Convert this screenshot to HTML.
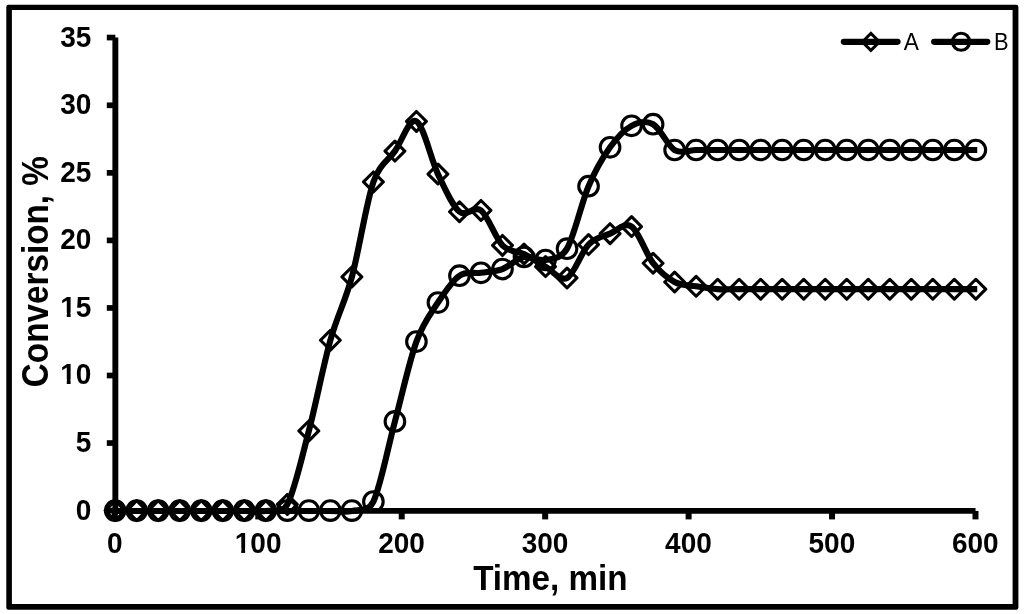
<!DOCTYPE html>
<html><head><meta charset="utf-8"><title>Conversion vs Time</title>
<style>
html,body{margin:0;padding:0;background:#fff;}
body{width:1024px;height:614px;overflow:hidden;}
svg{display:block;}
text{font-family:"Liberation Sans",Arial,Helvetica,sans-serif;fill:#000;}
.b{font-weight:bold;}
</style></head><body>
<svg width="1024" height="614" viewBox="0 0 1024 614">
<rect x="0" y="0" width="1024" height="614" fill="#fff"/>
<path fill="#000" fill-rule="evenodd" d="M8.5,4.7H1016.1999999999999Q1018.4,4.7 1018.4,6.9V607.5Q1018.4,609.7 1016.1999999999999,609.7H8.5Q6.3,609.7 6.3,607.5V6.9Q6.3,4.7 8.5,4.7ZM11.9,9.9V603.9H1012.6V9.9Z"/>
<g stroke="#000" stroke-width="5.9" fill="none">
<path d="M115.35,37.45V513.8"/>
<path d="M112.4,510.9H975.54"/>
</g>
<g stroke="#000" stroke-width="5.7" fill="none">
<path d="M106.8,510.60H115.35"/><path d="M106.8,443.05H115.35"/><path d="M106.8,375.50H115.35"/><path d="M106.8,307.95H115.35"/><path d="M106.8,240.40H115.35"/><path d="M106.8,172.85H115.35"/><path d="M106.8,105.30H115.35"/><path d="M106.8,37.55H115.35"/>
<path stroke-width="6" d="M114.85,510.9V519.4"/><path stroke-width="6" d="M258.29,510.9V519.4"/><path stroke-width="6" d="M401.73,510.9V519.4"/><path stroke-width="6" d="M545.17,510.9V519.4"/><path stroke-width="6" d="M688.61,510.9V519.4"/><path stroke-width="6" d="M832.05,510.9V519.4"/><path stroke-width="6" d="M975.49,510.9V519.4"/>
</g>
<g class="b" font-size="28"><text transform="translate(91.4,519.50) scale(1,1.06)" text-anchor="end">0</text><text transform="translate(91.4,451.95) scale(1,1.06)" text-anchor="end">5</text><text transform="translate(91.4,384.40) scale(1,1.06)" text-anchor="end">10</text><text transform="translate(91.4,316.85) scale(1,1.06)" text-anchor="end">15</text><text transform="translate(91.4,249.30) scale(1,1.06)" text-anchor="end">20</text><text transform="translate(91.4,181.75) scale(1,1.06)" text-anchor="end">25</text><text transform="translate(91.4,114.20) scale(1,1.06)" text-anchor="end">30</text><text transform="translate(91.4,46.65) scale(1,1.06)" text-anchor="end">35</text><text transform="translate(114.70,552.8) scale(1,1.075)" text-anchor="middle">0</text><text transform="translate(258.14,552.8) scale(1,1.075)" text-anchor="middle">100</text><text transform="translate(401.58,552.8) scale(1,1.075)" text-anchor="middle">200</text><text transform="translate(545.02,552.8) scale(1,1.075)" text-anchor="middle">300</text><text transform="translate(688.46,552.8) scale(1,1.075)" text-anchor="middle">400</text><text transform="translate(831.90,552.8) scale(1,1.075)" text-anchor="middle">500</text><text transform="translate(975.34,552.8) scale(1,1.075)" text-anchor="middle">600</text></g>
<g fill="#fff"><path d="M61.3,379.5H66.78V385.2H61.3ZM70.6,379.5H75.6V385.2H70.6ZM61.3,312.5H66.78V318.2H61.3ZM70.6,312.5H75.6V318.2H70.6ZM235.8,548.5H241.29V554.2H235.8ZM245.11,548.5H250.2V554.2H245.11Z"/></g>
<text class="b" font-size="33.2" transform="translate(550.3,590) scale(1,1.03)" text-anchor="middle">Time, min</text>
<text class="b" font-size="33.27" transform="translate(48.0,271.65) rotate(-90) scale(1,1.115)" text-anchor="middle">Conversion, %</text>
<g fill="none" stroke="#000" stroke-width="6.15" stroke-linejoin="round">
<path d="M115.20,510.95C118.79,510.95 129.54,510.95 136.72,510.95C143.89,510.95 151.06,510.95 158.23,510.95C165.40,510.95 172.58,510.95 179.75,510.95C186.92,510.95 194.09,510.95 201.26,510.95C208.44,510.95 215.61,510.95 222.78,510.95C229.95,510.95 237.12,510.95 244.30,510.95C251.47,510.95 258.64,512.04 265.81,510.95C272.98,509.86 282.00,514.29 287.33,504.39C294.50,491.04 301.67,458.25 308.84,430.89C316.02,403.53 323.19,365.91 330.36,340.24C337.53,314.57 344.70,303.27 351.88,276.88C359.05,250.49 366.22,202.86 373.39,181.90C379.47,164.13 387.74,161.19 394.91,151.10C402.08,141.01 409.25,117.55 416.42,121.38C423.60,125.20 430.77,159.00 437.94,174.07C445.11,189.13 452.28,205.70 459.46,211.76C466.63,217.82 473.80,204.80 480.97,210.41C488.14,216.01 495.32,238.13 502.49,245.40C509.66,252.67 516.83,250.51 524.00,254.05C531.18,257.58 538.35,262.62 545.52,266.61C552.69,270.59 559.86,281.63 567.04,277.96C574.21,274.29 581.38,251.97 588.55,244.59C595.72,237.20 602.90,236.64 610.07,233.65C617.24,230.65 624.41,221.69 631.58,226.62C638.76,231.55 645.93,254.00 653.10,263.23C660.27,272.46 667.44,278.16 674.62,282.01C681.79,285.86 688.96,285.14 696.13,286.33C703.30,287.53 710.48,288.70 717.65,289.17C724.82,289.64 731.99,289.17 739.16,289.17C746.34,289.17 753.51,289.17 760.68,289.17C767.85,289.17 775.02,289.17 782.20,289.17C789.37,289.17 796.54,289.17 803.71,289.17C810.88,289.17 818.06,289.17 825.23,289.17C832.40,289.17 839.57,289.17 846.74,289.17C853.92,289.17 861.09,289.17 868.26,289.17C875.43,289.17 882.60,289.17 889.78,289.17C896.95,289.17 904.12,289.17 911.29,289.17C918.46,289.17 925.64,289.17 932.81,289.17C939.98,289.17 947.15,289.17 954.32,289.17C961.50,289.17 972.25,289.17 975.84,289.17L977.24,289.17"/>
<path d="M115.20,510.95C118.79,510.95 129.54,510.95 136.72,510.95C143.89,510.95 151.06,510.95 158.23,510.95C165.40,510.95 172.58,510.95 179.75,510.95C186.92,510.95 194.09,510.95 201.26,510.95C208.44,510.95 215.61,510.95 222.78,510.95C229.95,510.95 237.12,510.95 244.30,510.95C251.47,510.95 258.64,510.95 265.81,510.95C272.98,510.95 280.16,510.95 287.33,510.95C294.50,510.95 301.67,510.95 308.84,510.95C316.02,510.95 323.19,510.95 330.36,510.95C337.53,510.95 344.70,512.52 351.88,510.95C359.05,509.38 368.31,512.13 373.39,501.55C380.56,486.63 387.74,448.09 394.91,421.43C402.08,394.77 409.25,361.40 416.42,341.59C423.60,321.78 430.77,313.53 437.94,302.55C445.11,291.56 452.28,280.61 459.46,275.66C466.63,270.71 473.80,273.93 480.97,272.82C488.14,271.72 495.32,271.68 502.49,269.04C509.66,266.41 516.83,258.53 524.00,257.02C531.18,255.51 538.35,261.39 545.52,259.99C552.69,258.59 560.91,259.15 567.04,248.64C574.21,236.35 581.38,203.11 588.55,186.22C595.72,169.34 602.90,157.38 610.07,147.32C617.24,137.25 624.41,129.69 631.58,125.84C638.76,121.98 645.93,120.18 653.10,124.21C660.27,128.24 667.44,145.72 674.62,150.02C681.79,154.32 688.96,150.02 696.13,150.02C703.30,150.02 710.48,150.02 717.65,150.02C724.82,150.02 731.99,150.02 739.16,150.02C746.34,150.02 753.51,150.02 760.68,150.02C767.85,150.02 775.02,150.02 782.20,150.02C789.37,150.02 796.54,150.02 803.71,150.02C810.88,150.02 818.06,150.02 825.23,150.02C832.40,150.02 839.57,150.02 846.74,150.02C853.92,150.02 861.09,150.02 868.26,150.02C875.43,150.02 882.60,150.02 889.78,150.02C896.95,150.02 904.12,150.02 911.29,150.02C918.46,150.02 925.64,150.02 932.81,150.02C939.98,150.02 947.15,150.02 954.32,150.02C961.50,150.02 972.25,150.02 975.84,150.02L977.24,150.02"/>
</g>
<path d="M115.20,500.70L125.10,510.60L115.20,520.50L105.30,510.60ZM136.72,500.70L146.62,510.60L136.72,520.50L126.82,510.60ZM158.23,500.70L168.13,510.60L158.23,520.50L148.33,510.60ZM179.75,500.70L189.65,510.60L179.75,520.50L169.85,510.60ZM201.26,500.70L211.16,510.60L201.26,520.50L191.36,510.60ZM222.78,500.70L232.68,510.60L222.78,520.50L212.88,510.60ZM244.30,500.70L254.20,510.60L244.30,520.50L234.40,510.60ZM265.81,500.70L275.71,510.60L265.81,520.50L255.91,510.60ZM287.33,494.49L297.23,504.39L287.33,514.29L277.43,504.39ZM308.84,420.99L318.74,430.89L308.84,440.79L298.94,430.89ZM330.36,330.34L340.26,340.24L330.36,350.14L320.46,340.24ZM351.88,266.98L361.78,276.88L351.88,286.78L341.98,276.88ZM373.39,172.00L383.29,181.90L373.39,191.80L363.49,181.90ZM394.91,141.20L404.81,151.10L394.91,161.00L385.01,151.10ZM416.42,111.48L426.32,121.38L416.42,131.28L406.52,121.38ZM437.94,164.17L447.84,174.07L437.94,183.97L428.04,174.07ZM459.46,201.86L469.36,211.76L459.46,221.66L449.56,211.76ZM480.97,200.51L490.87,210.41L480.97,220.31L471.07,210.41ZM502.49,235.50L512.39,245.40L502.49,255.30L492.59,245.40ZM524.00,244.15L533.90,254.05L524.00,263.95L514.10,254.05ZM545.52,256.71L555.42,266.61L545.52,276.51L535.62,266.61ZM567.04,268.06L576.94,277.96L567.04,287.86L557.14,277.96ZM588.55,234.69L598.45,244.59L588.55,254.49L578.65,244.59ZM610.07,223.75L619.97,233.65L610.07,243.55L600.17,233.65ZM631.58,216.72L641.48,226.62L631.58,236.52L621.68,226.62ZM653.10,253.33L663.00,263.23L653.10,273.13L643.20,263.23ZM674.62,272.11L684.52,282.01L674.62,291.91L664.72,282.01ZM696.13,276.43L706.03,286.33L696.13,296.23L686.23,286.33ZM717.65,279.27L727.55,289.17L717.65,299.07L707.75,289.17ZM739.16,279.27L749.06,289.17L739.16,299.07L729.26,289.17ZM760.68,279.27L770.58,289.17L760.68,299.07L750.78,289.17ZM782.20,279.27L792.10,289.17L782.20,299.07L772.30,289.17ZM803.71,279.27L813.61,289.17L803.71,299.07L793.81,289.17ZM825.23,279.27L835.13,289.17L825.23,299.07L815.33,289.17ZM846.74,279.27L856.64,289.17L846.74,299.07L836.84,289.17ZM868.26,279.27L878.16,289.17L868.26,299.07L858.36,289.17ZM889.78,279.27L899.68,289.17L889.78,299.07L879.88,289.17ZM911.29,279.27L921.19,289.17L911.29,299.07L901.39,289.17ZM932.81,279.27L942.71,289.17L932.81,299.07L922.91,289.17ZM954.32,279.27L964.22,289.17L954.32,299.07L944.42,289.17ZM975.84,279.27L985.74,289.17L975.84,299.07L965.94,289.17Z" fill="none" stroke="#000" stroke-width="3.1" stroke-linejoin="round"/>
<g fill="none" stroke="#000" stroke-width="3.1"><circle cx="115.20" cy="510.60" r="9.8"/><circle cx="136.72" cy="510.60" r="9.8"/><circle cx="158.23" cy="510.60" r="9.8"/><circle cx="179.75" cy="510.60" r="9.8"/><circle cx="201.26" cy="510.60" r="9.8"/><circle cx="222.78" cy="510.60" r="9.8"/><circle cx="244.30" cy="510.60" r="9.8"/><circle cx="265.81" cy="510.60" r="9.8"/><circle cx="287.33" cy="510.60" r="9.8"/><circle cx="308.84" cy="510.60" r="9.8"/><circle cx="330.36" cy="510.60" r="9.8"/><circle cx="351.88" cy="510.60" r="9.8"/><circle cx="373.39" cy="501.55" r="9.8"/><circle cx="394.91" cy="421.43" r="9.8"/><circle cx="416.42" cy="341.59" r="9.8"/><circle cx="437.94" cy="302.55" r="9.8"/><circle cx="459.46" cy="275.66" r="9.8"/><circle cx="480.97" cy="272.82" r="9.8"/><circle cx="502.49" cy="269.04" r="9.8"/><circle cx="524.00" cy="257.02" r="9.8"/><circle cx="545.52" cy="259.99" r="9.8"/><circle cx="567.04" cy="248.64" r="9.8"/><circle cx="588.55" cy="186.22" r="9.8"/><circle cx="610.07" cy="147.32" r="9.8"/><circle cx="631.58" cy="125.84" r="9.8"/><circle cx="653.10" cy="124.21" r="9.8"/><circle cx="674.62" cy="150.02" r="9.8"/><circle cx="696.13" cy="150.02" r="9.8"/><circle cx="717.65" cy="150.02" r="9.8"/><circle cx="739.16" cy="150.02" r="9.8"/><circle cx="760.68" cy="150.02" r="9.8"/><circle cx="782.20" cy="150.02" r="9.8"/><circle cx="803.71" cy="150.02" r="9.8"/><circle cx="825.23" cy="150.02" r="9.8"/><circle cx="846.74" cy="150.02" r="9.8"/><circle cx="868.26" cy="150.02" r="9.8"/><circle cx="889.78" cy="150.02" r="9.8"/><circle cx="911.29" cy="150.02" r="9.8"/><circle cx="932.81" cy="150.02" r="9.8"/><circle cx="954.32" cy="150.02" r="9.8"/><circle cx="975.84" cy="150.02" r="9.8"/></g>
<g fill="none" stroke="#000">
<path d="M843.8,41.85H897.6" stroke-width="6.1" stroke-linecap="round"/>
<path d="M870.90,33.40L879.50,41.90L870.90,50.40L862.30,41.90Z" stroke-width="2.9" stroke-linejoin="miter"/>
<path d="M934.1,41.85H987.3" stroke-width="6.1" stroke-linecap="round"/>
<circle cx="961.1" cy="41.75" r="8.5" stroke-width="3.2"/>
</g>
<g font-size="24.2">
<text transform="translate(903.7,49.8) scale(0.94,1)">A</text>
<text transform="translate(994.0,49.8) scale(0.905,1)">B</text>
</g>
</svg>
</body></html>
